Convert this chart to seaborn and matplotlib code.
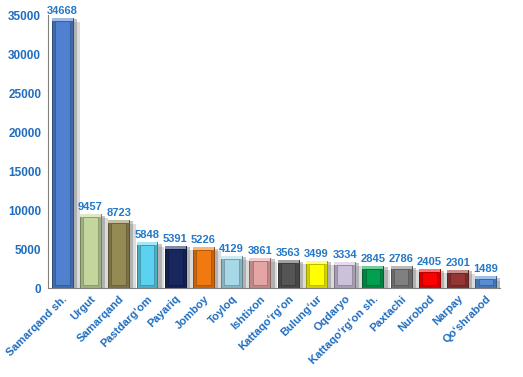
import numpy as np
import pandas as pd
import seaborn as sns
import matplotlib
matplotlib.use('Agg')
import matplotlib.pyplot as plt
import matplotlib.patheffects as pe
from matplotlib.patches import Rectangle
from matplotlib.colors import to_rgb

# data
districts = ["Samarqand sh.", "Urgut", "Samarqand", "Pastdarg\u2018om", "Payariq", "Jomboy",
             "Toyloq", "Ishtixon", "Kattaqo\u2018rg\u2018on", "Bulung\u2018ur", "Oqdaryo",
             "Kattaqo\u2018rg\u2018on sh.", "Paxtachi", "Nurobod", "Narpay", "Qo\u2018shrabod"]
values = [34668, 9457, 8723, 5848, 5391, 5226, 4129, 3861, 3563, 3499, 3334,
          2845, 2786, 2405, 2301, 1489]
bar_colors = ["#4F81D0", "#C3D69B", "#948A54", "#5BD2F0", "#17275E", "#F07A10",
              "#A6D8E8", "#E6A5A5", "#555555", "#FFFF00", "#CCC0DA", "#00A050",
              "#808080", "#FF0000", "#943634", "#558ED5"]

df = pd.DataFrame({"district": districts, "count": values})

sns.set_style("white")
plt.rcParams['font.family'] = ['Liberation Sans', 'DejaVu Sans']
blue = "#1F6DBF"

fig = plt.figure(figsize=(5.23, 3.77), dpi=100)
ax = fig.add_axes([0.092, 0.236, 0.864, 0.724])

sns.barplot(data=df, x="district", y="count", hue="district", palette=bar_colors,
            legend=False, width=0.74, saturation=1, ax=ax)

ax.set_ylim(0, 35000)
ax.set_xlim(-0.5, len(districts) - 0.5)
ax.set_yticks(range(0, 35001, 5000))
ax.set_xlabel("")
ax.set_ylabel("")

# 3d-ish look: soft drop shadow, darker bevel sides, lighter top edge
fig.canvas.draw()
px_per_unit = ax.transData.transform((0, 1000))[1] - ax.transData.transform((0, 0))[1]
inset_y = 3 * 1000 / px_per_unit
for patch, c in zip(ax.patches, bar_colors):
    rgb = np.array(to_rgb(c))
    dark = rgb * 0.6
    side = rgb * 0.82
    light = rgb + (1 - rgb) * 0.45
    patch.set_facecolor(side)
    patch.set_edgecolor(dark)
    patch.set_linewidth(0.7)
    patch.set_path_effects([pe.SimplePatchShadow(offset=(5, -3), shadow_rgbFace="#9A9A9A", alpha=0.35),
                            pe.SimplePatchShadow(offset=(3, -1), shadow_rgbFace="#7F7F7F", alpha=0.45),
                            pe.Normal()])
    x0, w, h = patch.get_x(), patch.get_width(), patch.get_height()
    iy = min(inset_y, h * 0.22)
    z = patch.get_zorder()
    # light top bevel
    ax.add_patch(Rectangle((x0, h - iy), w, iy, facecolor=light, edgecolor="none", zorder=z + 0.1))
    # front face
    ax.add_patch(Rectangle((x0 + w * 0.15, iy), w * 0.70, h - 2 * iy,
                           facecolor=rgb, edgecolor=dark, linewidth=0.4, zorder=z + 0.2))
    ax.text(x0 + w / 2, h + 250, f"{int(h)}", ha="center", va="bottom",
            fontsize=8, fontweight="bold", color="#2378C8")

sns.despine(ax=ax)
for s in ["left", "bottom"]:
    ax.spines[s].set_color("#808080")
    ax.spines[s].set_linewidth(0.8)

ax.tick_params(axis="y", direction="out", length=3, width=0.8, color="#808080",
               labelsize=8.5, labelcolor=blue, pad=2)
for t in ax.get_yticklabels():
    t.set_fontweight("bold")

# tick marks between categories
ax.set_xticks(np.arange(-0.5, len(districts), 1), minor=True)
ax.tick_params(axis="x", which="minor", direction="out", length=4, width=0.8, color="#808080")
ax.tick_params(axis="x", which="major", length=0, pad=4)
ax.set_xticks(range(len(districts)))
ax.set_xticklabels(districts, rotation=45, ha="right", rotation_mode="anchor",
                   fontsize=8, fontweight="bold", color=blue)

fig.savefig("out.png", dpi=100)
